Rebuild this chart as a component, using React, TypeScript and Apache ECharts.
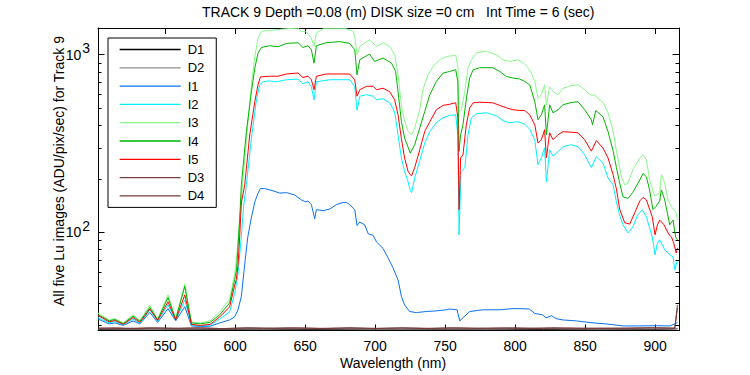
import React, { useEffect, useRef } from "react";
import * as echarts from "echarts";

const TITLE = "TRACK 9 Depth =0.08 (m) DISK size =0 cm   Int Time = 6 (sec)";
const X_NAME = "Wavelength (nm)";
const Y_NAME = "All five Lu images (ADU/pix/sec) for Track 9";
const X_MIN = 502;
const X_MAX = 917;
const Y_MIN = 27.9;
const Y_MAX = 1415;
const MINOR_TICKS = [30, 40, 50, 60, 70, 80, 90, 200, 300, 400, 500, 600, 700, 800, 900];

const SERIES_NAMES = ["D1", "D2", "I1", "I2", "I3", "I4", "I5", "D3", "D4"];
const SERIES_COLORS = ["#000000", "#8c8c8c", "#0a72f0", "#00f0ff", "#88f888", "#00b400", "#ff0000", "#804040", "#773a3a"];

const D1 = [[502, 28.3], [540, 28.4], [580, 28.3], [620, 28.4], [660, 28.3], [700, 28.4], [740, 28.3], [780, 28.4], [820, 28.3], [860, 28.4], [900, 28.3], [915.9, 28.5]];
const D2 = [[502, 28.5], [545, 28.4], [590, 28.5], [635, 28.6], [680, 28.5], [725, 28.4], [770, 28.5], [815, 28.6], [860, 28.5], [905, 28.5], [915.9, 28.6]];
const D3 = [[502, 28.7], [515, 28.9], [530, 28.6], [545, 28.8], [560, 28.7], [575, 28.9], [590, 28.6], [605, 28.8], [620, 28.7], [640, 28.9], [660, 28.7], [680, 28.8], [700, 28.6], [720, 28.9], [740, 28.7], [760, 28.8], [780, 28.7], [800, 28.9], [820, 28.7], [840, 28.8], [860, 28.6], [880, 28.8], [900, 28.9], [914, 28.8], [915.9, 38.9]];
const D4 = [[502, 28.8], [520, 28.6], [538, 28.9], [556, 28.7], [574, 28.8], [592, 28.6], [610, 28.9], [628, 28.7], [646, 28.8], [664, 28.6], [682, 28.9], [700, 28.7], [718, 28.8], [736, 28.6], [754, 28.9], [772, 28.7], [790, 28.8], [808, 28.6], [826, 28.9], [844, 28.7], [862, 28.8], [880, 28.7], [898, 28.9], [914, 28.7], [915.9, 37.5]];

const I1 = [[502, 32.4], [505, 31.6], [510, 30.4], [514, 30.8], [520, 29.8], [527, 31.6], [532, 30.4], [539, 35.3], [544.6, 31.0], [552, 37.0], [557.5, 31.6], [564, 38.0], [568.7, 29.6], [575, 29.4], [582, 29.5], [589, 30.8], [596, 32.0], [599.6, 33.3], [602, 36.5], [604.4, 43.5], [606.8, 66], [609, 94], [611.2, 117], [614, 148], [616.3, 166], [618, 176], [621, 176], [627, 171], [631.8, 166], [636.6, 167], [642.5, 162], [647.3, 152], [650.4, 148], [652, 150], [654.4, 143], [656.8, 119], [658, 134], [662.7, 132], [667.5, 135], [672.3, 143], [677, 147], [679.4, 147], [681.8, 143], [685.4, 134], [687, 109], [689, 114], [692.5, 110], [695, 98], [698.5, 96], [701, 88], [705.6, 81], [709, 72], [712.7, 63], [716.3, 53.8], [718.7, 43.5], [721, 38.9], [724.6, 35.7], [729.4, 35.2], [736.5, 35.7], [743.7, 36.0], [750.8, 36.5], [753, 36.9], [758.5, 36.5], [760.4, 31.6], [762.7, 32.9], [767.5, 35.7], [777, 36.5], [789, 36.5], [798.4, 37.1], [810, 36.9], [814, 34.8], [819.5, 34.2], [822, 32.9], [825.9, 33.8], [829.4, 32.5], [834, 32.0], [843.7, 31.6], [855.6, 30.8], [865, 30.4], [877, 29.6], [886.6, 29.6], [900.9, 29.7], [910.4, 29.6], [914, 30.4], [915.9, 31.0]];

const I2 = [[502, 33.0], [505, 32.2], [510, 30.8], [514, 31.4], [520, 30.0], [527, 32.4], [532, 30.6], [539, 36.5], [544.6, 31.4], [552, 39.0], [557.5, 31.8], [564, 41.5], [568.7, 30.0], [575, 29.6], [582, 29.9], [589, 32.4], [596, 35.5], [599.6, 45], [602, 58], [604.4, 95], [606, 140], [608, 185], [611.6, 340], [615.2, 557], [617.5, 677], [619.9, 704], [624, 712], [629.4, 704], [636.6, 723], [644.9, 729], [648.4, 686], [652, 704], [654.4, 660], [656.3, 557], [658, 704], [667.5, 723], [681.8, 723], [685.4, 660], [687, 487], [689, 584], [693.8, 595], [698.5, 584], [700.9, 557], [705.6, 565], [710.4, 536], [713.9, 477], [716.3, 354], [718.7, 262], [721, 219], [723.4, 193], [724.8, 175], [726, 167], [728.2, 202], [731.8, 253], [735.4, 318], [739, 368], [743.7, 414], [748.4, 441], [753.2, 455], [757.5, 459], [759, 354], [759.9, 96.6], [761.3, 219], [764, 231], [766.3, 354], [768.7, 441], [772.3, 465], [779.4, 471], [786.6, 453], [791.3, 425], [796, 414], [802, 419], [806.8, 406], [810.4, 380], [814, 329], [816.3, 240], [818.7, 262], [821, 299], [822.3, 192], [824.6, 291], [827, 268], [830.6, 284], [834, 303], [840, 311], [844.9, 303], [849.6, 273], [854.4, 231], [858, 266], [862.7, 245], [866.3, 202], [869.9, 185], [872.3, 148], [874.6, 125], [877, 110], [880.6, 99], [884.1, 107], [887.4, 125], [890.8, 134], [893.7, 122], [897.9, 94], [899.9, 74.5], [901.6, 87], [903.2, 90.5], [906.8, 79.5], [910.4, 74.5], [912.7, 72.6], [914, 61.3], [915.9, 69.8]];

const I3 = [[502, 35.0], [505, 33.8], [510, 32.0], [514, 32.6], [520, 30.8], [527, 34.2], [532, 31.8], [539, 38.9], [544.6, 32.4], [552, 44.3], [557.5, 32.6], [564, 51.1], [568.7, 31.2], [575, 30.8], [582, 31.6], [589, 35.5], [596, 42.0], [599.6, 58], [601, 72], [603, 115], [605.6, 200], [609, 403], [611.6, 677], [614, 978], [616.3, 1242], [618.7, 1355], [622, 1366], [629.4, 1384], [636.6, 1402], [644.9, 1412], [647.3, 1355], [650.9, 1345], [654.4, 1242], [656.3, 1113], [658, 1326], [662.7, 1402], [669.9, 1402], [679.4, 1402], [684, 1355], [685.4, 1270], [687, 1000], [689, 1113], [692.6, 1165], [696, 1215], [700.9, 1113], [705.6, 1165], [710.4, 1113], [713.9, 1000], [716.3, 771], [718.7, 522], [721, 423], [723.4, 371], [725.9, 354], [728.2, 385], [731.8, 490], [734, 633], [737.7, 771], [741.3, 858], [746, 937], [750.9, 978], [757.5, 992], [759, 878], [759.9, 477], [761.6, 490], [764, 621], [766.3, 845], [768.7, 937], [772.3, 1026], [779.4, 1047], [786.6, 1000], [791.3, 937], [796, 917], [802, 937], [806.8, 887], [810.4, 823], [814, 707], [816.3, 566], [818.7, 595], [821, 677], [822.3, 522], [824.6, 660], [827, 621], [830.6, 595], [834, 646], [840, 670], [844.9, 677], [849.6, 635], [854.4, 587], [856.8, 595], [859, 570], [862.7, 540], [866.3, 470], [869.9, 373], [872.3, 288], [875.9, 204], [878.2, 185], [880.6, 189], [884.1, 225], [889, 262], [891.3, 273], [893.7, 256], [896, 197], [899.6, 160], [903.2, 167], [904.4, 211], [906.8, 189], [909.1, 152], [911.6, 139], [915.1, 128.5], [915.9, 117]];

const I4 = [[502, 34.2], [505, 33.3], [510, 31.6], [514, 32.2], [520, 30.5], [527, 33.6], [532, 31.4], [539, 37.7], [544.6, 32.0], [552, 42.8], [557.5, 32.2], [564, 49.5], [568.7, 30.8], [575, 30.4], [582, 31.0], [589, 34.2], [596, 39.9], [599.6, 54], [601, 62], [603, 110], [604.4, 185], [608, 369], [611.6, 621], [614, 841], [616.3, 1022], [618.7, 1099], [624.6, 1124], [630.6, 1110], [636.6, 1158], [644.9, 1169], [648.4, 1099], [652, 1124], [654.4, 1067], [656.3, 896], [658, 1124], [665, 1169], [674.6, 1186], [681.8, 1158], [685.4, 1067], [687, 771], [689, 937], [693.8, 987], [696, 1008], [699.6, 917], [705.6, 958], [711.6, 898], [714.6, 805], [716.3, 621], [718.7, 421], [721, 339], [723.4, 303], [725, 279], [728.2, 311], [731.8, 386], [735.4, 479], [739, 595], [743.7, 707], [748.4, 788], [753.2, 805], [757.5, 823], [759, 707], [759.9, 285], [761, 354], [762.7, 403], [765.1, 563], [767.5, 742], [770, 823], [774.6, 845], [784, 845], [789, 805], [793.7, 754], [798.4, 739], [803.2, 730], [806.8, 707], [810.4, 677], [814, 543], [816.3, 430], [818.7, 459], [821, 522], [822.3, 354], [824.6, 522], [827, 471], [830.6, 490], [834, 522], [840, 538], [844.9, 543], [849.6, 490], [854.4, 430], [855.2, 403], [857.6, 485], [862.7, 447], [866.3, 369], [869.9, 288], [872.3, 231], [874.6, 190], [877, 158], [880.6, 155], [884.1, 168], [889, 197], [891.3, 214], [893.7, 205], [896, 173], [898.4, 134], [900.4, 139], [903.2, 150], [904.4, 173], [906.8, 152], [910.4, 110], [912.7, 117], [914.6, 94], [915.9, 90.5]];

const I5 = [[502, 33.8], [505, 32.9], [510, 31.2], [514, 31.8], [520, 30.2], [527, 33.0], [532, 31.0], [539, 36.9], [544.6, 31.8], [552, 40.5], [557.5, 32.0], [564, 44.3], [568.7, 30.2], [575, 29.8], [582, 30.2], [589, 33.3], [596, 37.9], [599.6, 50], [600.8, 54], [602, 65], [603.2, 94], [604.4, 146], [606.8, 185], [610.4, 354], [614, 545], [616.3, 677], [618, 750], [624.6, 757], [630.6, 757], [636.6, 779], [644.9, 789], [648.4, 744], [652, 757], [654.4, 723], [656.3, 635], [658, 757], [665, 779], [674.6, 779], [681.8, 779], [685.4, 723], [687, 584], [689, 635], [693.8, 664], [698.5, 664], [700.9, 635], [705.6, 648], [710.4, 618], [713.9, 557], [716.3, 459], [718.7, 337], [721, 262], [723.4, 221], [725, 211], [726, 208], [728.2, 231], [731.8, 291], [735.4, 370], [739, 419], [743.7, 490], [748.4, 518], [753.2, 526], [757.5, 536], [759, 445], [759.9, 134], [761, 262], [762.7, 273], [765.1, 403], [767.5, 502], [770, 536], [774.6, 540], [784, 536], [789, 518], [793.7, 502], [798.4, 490], [803.2, 485], [806.8, 485], [810.4, 459], [814, 403], [816.3, 318], [818.7, 332], [821, 378], [822.3, 262], [824.6, 363], [827, 332], [830.6, 354], [834, 368], [840, 366], [844.9, 363], [849.6, 332], [854.4, 286], [858, 328], [862.7, 298], [866.3, 262], [869.9, 211], [872.3, 175], [874.6, 135], [878.2, 113], [881.8, 111], [885.4, 128.5], [889, 150], [891.3, 157], [893.7, 152], [897.9, 122], [899.9, 96.6], [901.6, 110], [903.2, 117], [906.3, 110], [909.9, 96.6], [911.6, 94], [913.2, 87], [915, 76.4], [915.9, 81.5]];

const SERIES_DATA = [D1, D2, I1, I2, I3, I4, I5, D3, D4];

const FONT = "'Liberation Sans', Arial, Helvetica, sans-serif";

export default function App() {
  const ref = useRef<HTMLDivElement>(null);
  useEffect(() => {
    if (!ref.current) return;
    const chart = echarts.init(ref.current, null, { renderer: "svg" });
    const axisLine = { show: true, lineStyle: { color: "#000", width: 1 } };
    const xCommon = {
      type: "value",
      min: X_MIN,
      max: X_MAX,
      splitNumber: 8,
      splitLine: { show: false },
      axisLine,
      axisTick: { show: true, inside: true, length: 6, lineStyle: { color: "#000" } },
    };
    const yCommon = {
      type: "log",
      logBase: 10,
      min: Y_MIN,
      max: Y_MAX,
      splitLine: { show: false },
      axisLine,
      axisTick: { show: true, inside: true, length: 6.5, lineStyle: { color: "#000" } },
    };
    const lineSeries = SERIES_NAMES.map((name, i) => ({
      type: "line",
      name,
      data: SERIES_DATA[i],
      symbol: "none",
      showSymbol: false,
      lineStyle: { color: SERIES_COLORS[i], width: 1 },
      itemStyle: { color: SERIES_COLORS[i] },
      emphasis: { disabled: true },
      xAxisIndex: 0,
      yAxisIndex: 0,
      z: 2,
    }));
    const tickSeries = {
      type: "custom",
      name: "minorTicks",
      xAxisIndex: 0,
      yAxisIndex: 0,
      silent: true,
      clip: false,
      z: 5,
      data: MINOR_TICKS.map((v) => [X_MIN, v]),
      encode: { x: 0, y: 1 },
      renderItem: (params: any, api: any) => {
        const v = api.value(1);
        const l = api.coord([X_MIN, v]);
        const r = api.coord([X_MAX, v]);
        const yy = Math.round(l[1]) + 0.5;
        return {
          type: "group",
          children: [
            { type: "line", shape: { x1: l[0], y1: yy, x2: l[0] + 3.5, y2: yy }, style: { stroke: "#000", lineWidth: 1 } },
            { type: "line", shape: { x1: r[0] - 3.5, y1: yy, x2: r[0], y2: yy }, style: { stroke: "#000", lineWidth: 1 } },
          ],
        };
      },
    };
    chart.setOption({
      animation: false,
      textStyle: { fontFamily: FONT },
      title: {
        text: TITLE,
        left: 202,
        top: 5,
        padding: 0,
        textStyle: { fontSize: 14, fontWeight: "normal", color: "#000", fontFamily: FONT },
      },
      grid: { left: 98, top: 28, width: 581, height: 302.5, containLabel: false },
      legend: {
        data: SERIES_NAMES,
        orient: "vertical",
        left: 108,
        top: 38,
        padding: [5, 12, 5, 11],
        itemWidth: 61,
        itemHeight: 14,
        itemGap: 5.3,
        backgroundColor: "#fff",
        borderColor: "#000",
        borderWidth: 1,
        selectedMode: false,
        itemStyle: { opacity: 0, borderWidth: 0 },
        lineStyle: { width: 1.3 },
        textStyle: { fontSize: 13, color: "#000", fontFamily: FONT, padding: [0, 0, 0, 2] },
      },
      xAxis: [
        {
          ...xCommon,
          position: "bottom",
          axisLabel: {
            show: true,
            inside: false,
            margin: 8,
            fontSize: 14,
            color: "#000",
            fontFamily: FONT,
            showMinLabel: false,
            showMaxLabel: false,
          },
        },
        { ...xCommon, position: "top", axisLabel: { show: false } },
      ],
      yAxis: [
        {
          ...yCommon,
          position: "left",
          axisLabel: {
            show: true,
            margin: 8,
            showMinLabel: false,
            showMaxLabel: false,
            formatter: (v: number) => {
              const e = Math.round(Math.log10(v));
              if (Math.abs(v - Math.pow(10, e)) > 1e-6 * v) return "";
              return `{b|10}{s|${e}}`;
            },
            rich: {
              b: { fontSize: 14, color: "#000", fontFamily: FONT },
              s: { fontSize: 14, color: "#000", fontFamily: FONT, padding: [0, 0, 13, 1] },
            },
          },
        },
        { ...yCommon, position: "right", axisLabel: { show: false } },
      ],
      graphic: [
        {
          type: "text",
          x: 393,
          y: 363,
          style: { text: X_NAME, fontSize: 14, fill: "#000", fontFamily: FONT, align: "center", verticalAlign: "middle" },
        },
        {
          type: "text",
          x: 59,
          y: 171,
          rotation: Math.PI / 2,
          style: { text: Y_NAME, fontSize: 14, fill: "#000", fontFamily: FONT, align: "center", verticalAlign: "middle" },
        },
      ],
      series: [...lineSeries, tickSeries],
    });
    return () => chart.dispose();
  }, []);
  return (
    <div
      ref={ref}
      style={{ position: "fixed", left: 0, top: 0, width: 750, height: 375, background: "#fff" }}
    />
  );
}
